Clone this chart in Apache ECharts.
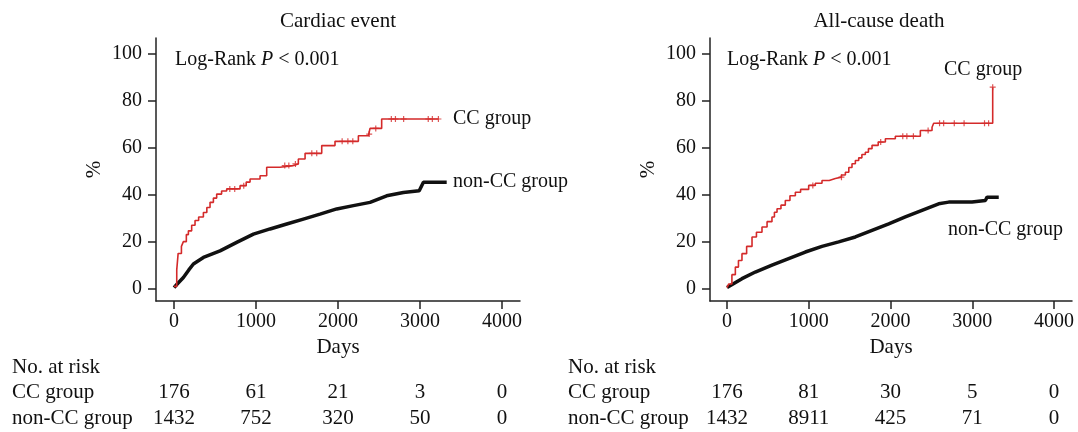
<!DOCTYPE html>
<html><head><meta charset="utf-8">
<script src="https://cdn.jsdelivr.net/npm/echarts@6/dist/echarts.min.js"></script>
<style>html,body{margin:0;padding:0;background:#fff}#c{width:1078px;height:432px}</style>
</head><body><div id="c"></div>
<script>
// ---------- data ----------
const xTicks = [0, 1000, 2000, 3000, 4000];
const yTicks = [0, 20, 40, 60, 80, 100];
const panelTitles = ['Cardiac event', 'All-cause death'];
const groupNames = ['CC group', 'non-CC group'];
const riskHeader = 'No. at risk';
const logRankText = 'Log-Rank {i|P} < 0.001';

// Cardiac event, CC group (step curve: [day, cumulative %])
const cardiacCC = [[0,1],[33,8],[50,15],[90,18],[114,20],[150,23],[175,24.6],[215,27],[256,29],[300,30.5],[358,32.4],[400,34.5],[439,36.7],[480,38.5],[520,40.2],[580,41.5],[642,42.4],[805,43.8],[880,45.3],[927,46.6],[1049,48],[1130,51.6],[1293,52.3],[1455,53],[1516,55.1],[1598,57.5],[1801,60.8],[1963,62.6],[2248,65],[2370,65.7],[2390,68.1],[2532,72.1],[3224,72.1]];
const cardiacCCcensor = [[680,42.4],[740,42.4],[850,43.8],[1350,52.3],[1400,52.3],[1480,53],[1680,57.5],[1740,57.5],[2050,62.6],[2120,62.6],[2180,62.6],[2380,65.7],[2460,68.1],[2650,72.1],[2700,72.1],[2800,72.1],[3100,72.1],[3150,72.1],[3224,72.1]];
// Cardiac event, non-CC group
const cardiacNonCC = [[0,0.5],[33,1.8],[114,4.8],[180,8],[236,10.5],[358,13.3],[561,16.1],[764,19.7],[968,23.2],[1171,25.4],[1374,27.5],[1577,29.6],[1780,31.7],[1984,33.9],[2187,35.3],[2390,36.7],[2593,39.5],[2797,40.9],[2990,41.6],[3041,45.2],[3325,45.2]];
// All-cause death, CC group
const deathCC = [[0,0.5],[20,2],[60,6],[102,9.2],[140,12],[183,14.9],[240,18],[306,22],[360,24],[428,26.2],[490,28.5],[550,30.5],[580,32.5],[612,34],[660,35.5],[713,37.5],[770,39.5],[836,41],[900,42.2],[999,43.9],[1080,44.8],[1162,46],[1250,46.8],[1325,47.4],[1400,48.3],[1448,49.5],[1490,51.5],[1529,53.1],[1570,54.5],[1611,55.6],[1650,57],[1692,58],[1730,59.5],[1774,60.9],[1850,62.3],[1937,63.7],[2059,64.8],[2365,67.2],[2508,68.6],[2528,70.3],[3250,85.6]];
const deathCCcensor = [[1050,43.9],[1400,47.4],[1880,62.3],[2150,64.8],[2200,64.8],[2280,64.8],[2460,67.2],[2600,70.3],[2650,70.3],[2780,70.3],[2900,70.3],[3150,70.3],[3200,70.3],[3250,85.6]];
// All-cause death, non-CC group
const deathNonCC = [[0,0.5],[20,0.8],[183,4.3],[346,7.1],[550,10],[754,12.8],[958,15.6],[1162,18],[1366,19.9],[1570,22],[1774,24.8],[1978,27.6],[2181,30.5],[2385,33.3],[2589,36.1],[2712,36.8],[2997,36.8],[3160,37.5],[3181,38.9],[3324,38.9]];

// numbers at risk at xTicks
const riskCardiacCC = [176, 61, 21, 3, 0];
const riskCardiacNonCC = [1432, 752, 320, 50, 0];
const riskDeathCC = [176, 81, 30, 5, 0];
const riskDeathNonCC = [1432, 8911, 425, 71, 0];

// ---------- chart ----------
const FONT = '"Liberation Serif", "Times New Roman", serif';
const RED = '#d42a2a';
const BLK = '#111111';
const plus = 'path://M4,0H6V4H10V6H6V10H4V6H0V4H4Z';

function xAxis(gi, min, max) {
  return {
    type: 'value', gridIndex: gi, min: min, max: max,
    name: 'Days', nameLocation: 'middle', nameGap: 36,
    nameTextStyle: { fontFamily: FONT, fontSize: 21, color: '#111' },
    axisLine: { show: true, onZero: false, lineStyle: { color: '#222', width: 1.5 } },
    axisTick: { show: true, length: 8, customValues: xTicks, lineStyle: { color: '#222', width: 1.5 } },
    axisLabel: { customValues: xTicks, margin: 11, fontFamily: FONT, fontSize: 20, color: '#111',
      formatter: v => String(v) },
    splitLine: { show: false }
  };
}
function yAxis(gi) {
  return {
    type: 'value', gridIndex: gi, min: -5.2, max: 106.5,
    name: '%', nameLocation: 'middle', nameGap: 51, nameRotate: 90,
    nameTextStyle: { fontFamily: FONT, fontSize: 21, color: '#111' },
    axisLine: { show: true, onZero: false, lineStyle: { color: '#222', width: 1.5 } },
    axisTick: { show: true, length: 8, customValues: yTicks, lineStyle: { color: '#222', width: 1.5 } },
    axisLabel: { customValues: yTicks, margin: 14, fontFamily: FONT, fontSize: 20, color: '#111',
      formatter: v => String(v) },
    splitLine: { show: false }
  };
}
function stepLine(xi, data, color, width) {
  return { type: 'line', xAxisIndex: xi, yAxisIndex: xi, data: data, step: 'end',
    showSymbol: false, animation: false, lineStyle: { color: color, width: width } };
}
function smoothLine(xi, data, color, width) {
  return { type: 'line', xAxisIndex: xi, yAxisIndex: xi, data: data,
    showSymbol: false, animation: false, lineStyle: { color: color, width: width } };
}
function censor(xi, data, color) {
  return { type: 'scatter', xAxisIndex: xi, yAxisIndex: xi, data: data, symbol: plus,
    symbolSize: 6, animation: false, itemStyle: { color: color } };
}

const chart = echarts.init(document.getElementById('c'), null, { renderer: 'canvas' });
const txt = (t, x, y, opts) => ({ type: 'text', x: x, y: y, silent: true,
  style: Object.assign({ text: t, fontFamily: FONT, fontSize: 21, fill: '#111', align: 'left', verticalAlign: 'middle' }, opts || {}) });

const option = {
  animation: false,
  grid: [
    { left: 156, width: 364, top: 38, height: 263 },
    { left: 710, width: 362, top: 38, height: 263 }
  ],
  xAxis: [xAxis(0, -220, 4219), xAxis(1, -208, 4220)],
  yAxis: [yAxis(0), yAxis(1)],
  series: [
    smoothLine(0, cardiacNonCC, BLK, 3.5),
    stepLine(0, cardiacCC, RED, 1.6),
    censor(0, cardiacCCcensor, RED),
    smoothLine(1, deathNonCC, BLK, 3.5),
    stepLine(1, deathCC, RED, 1.6),
    censor(1, deathCCcensor, RED)
  ]
};
chart.setOption(option);

const g = [];
g.push(txt(panelTitles[0], 338, 21, { align: 'center' }));
g.push(txt(panelTitles[1], 879, 21, { align: 'center' }));
const lr = { rich: { i: { fontStyle: 'italic', fontFamily: FONT, fontSize: 20, fill: '#111' } }, fontSize: 20 };
g.push(txt(logRankText, 175, 60, lr));
g.push(txt(logRankText, 727, 60, lr));
g.push(txt(groupNames[0], 453, 119, { fontSize: 20 }));
g.push(txt(groupNames[1], 453, 182, { fontSize: 20 }));
g.push(txt(groupNames[0], 944, 70, { fontSize: 20 }));
g.push(txt(groupNames[1], 948, 230, { fontSize: 20 }));

const rows = [367, 392, 418];
[[0, 12, riskCardiacCC, riskCardiacNonCC], [1, 568, riskDeathCC, riskDeathNonCC]].forEach(([xi, lx, a, b]) => {
  g.push(txt(riskHeader, lx, rows[0]));
  g.push(txt(groupNames[0], lx, rows[1]));
  g.push(txt(groupNames[1], lx, rows[2]));
  xTicks.forEach((d, k) => {
    const px = chart.convertToPixel({ xAxisIndex: xi }, d);
    g.push(txt(String(a[k]), px, rows[1], { align: 'center' }));
    g.push(txt(String(b[k]), px, rows[2], { align: 'center' }));
  });
});
chart.setOption({ graphic: g });
</script>
</body></html>
